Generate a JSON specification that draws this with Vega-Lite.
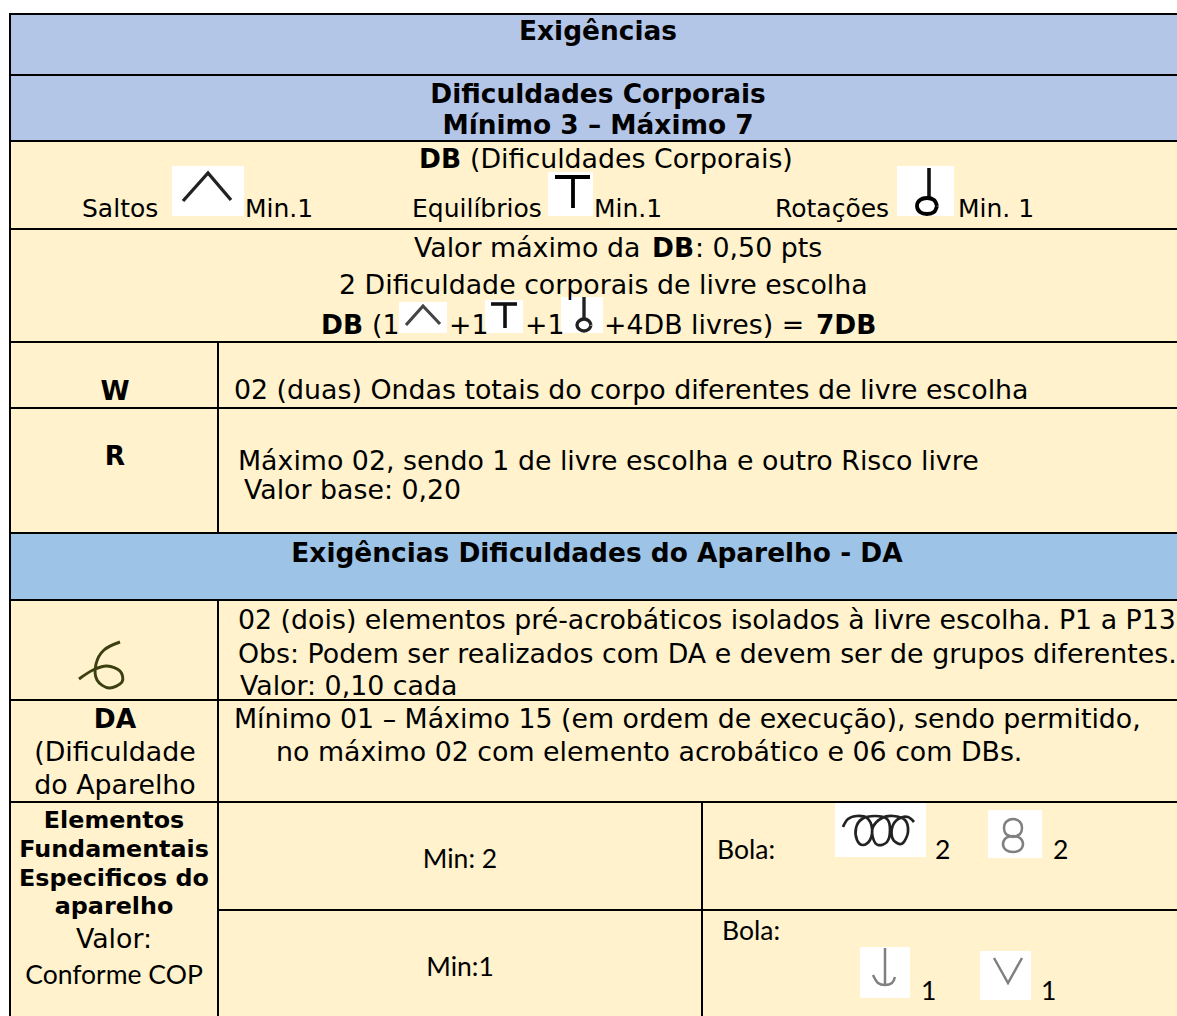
{"$schema":"https://vega.github.io/schema/vega-lite/v6.json","autosize":{"type":"fit","contains":"padding"},"padding":0,"width":1177,"height":1016,"background":"white","view":{"stroke":null},
"datasets":{
"cells":[
{"a":10,"b":1190,"t":14,"u":75,"k":"head"},{"a":10,"b":1190,"t":75,"u":141,"k":"head"},
{"a":10,"b":1190,"t":141,"u":229,"k":"body"},{"a":10,"b":1190,"t":229,"u":342,"k":"body"},
{"a":10,"b":218,"t":342,"u":408,"k":"body"},{"a":218,"b":1190,"t":342,"u":408,"k":"body"},
{"a":10,"b":218,"t":408,"u":533,"k":"body"},{"a":218,"b":1190,"t":408,"u":533,"k":"body"},
{"a":10,"b":1190,"t":533,"u":600,"k":"section"},
{"a":10,"b":218,"t":600,"u":700,"k":"body"},{"a":218,"b":1190,"t":600,"u":700,"k":"body"},
{"a":10,"b":218,"t":700,"u":802,"k":"body"},{"a":218,"b":1190,"t":700,"u":802,"k":"body"},
{"a":10,"b":218,"t":802,"u":1040,"k":"body"},{"a":218,"b":702,"t":802,"u":910,"k":"body"},{"a":702,"b":1190,"t":802,"u":910,"k":"body"},
{"a":218,"b":702,"t":910,"u":1040,"k":"body"},{"a":702,"b":1190,"t":910,"u":1040,"k":"body"}],
"boxes":[
{"a":172,"b":244,"t":166,"u":216},{"a":548,"b":593,"t":172,"u":216},{"a":897,"b":954,"t":166,"u":216},
{"a":399,"b":447,"t":302,"u":333},{"a":485,"b":523,"t":300,"u":333},{"a":561,"b":603,"t":297,"u":333},
{"a":835,"b":926,"t":803,"u":857},{"a":988,"b":1042,"t":810,"u":858},{"a":860,"b":910,"t":947,"u":998},{"a":980,"b":1031,"t":951,"u":1000}],
"glyphs":[
{"g":"a1","p":"thin","c":0,"n":1,"x":183,"y":201},{"g":"a1","p":"thin","c":0,"n":2,"x":208,"y":173},{"g":"a1","p":"thin","c":0,"n":3,"x":231,"y":200},
{"g":"t1a","p":"thick","c":0,"n":1,"x":555,"y":177},{"g":"t1a","p":"thick","c":0,"n":2,"x":590,"y":177},
{"g":"t1b","p":"thick","c":0,"n":1,"x":573,"y":177},{"g":"t1b","p":"thick","c":0,"n":2,"x":573,"y":208},
{"g":"r1a","p":"mid","c":0,"n":1,"x":929,"y":168},{"g":"r1a","p":"mid","c":0,"n":2,"x":929,"y":198},
{"g":"r1b","p":"thick","c":1,"n":1,"x":937,"y":206},{"g":"r1b","p":"thick","c":1,"n":2,"x":934,"y":212},{"g":"r1b","p":"thick","c":1,"n":3,"x":927,"y":214},{"g":"r1b","p":"thick","c":1,"n":4,"x":920,"y":212},{"g":"r1b","p":"thick","c":1,"n":5,"x":917,"y":206},{"g":"r1b","p":"thick","c":1,"n":6,"x":920,"y":200},{"g":"r1b","p":"thick","c":1,"n":7,"x":927,"y":198},{"g":"r1b","p":"thick","c":1,"n":8,"x":934,"y":200},{"g":"r1b","p":"thick","c":1,"n":9,"x":937,"y":206},
{"g":"a2","p":"fine","c":0,"n":1,"x":406,"y":325},{"g":"a2","p":"fine","c":0,"n":2,"x":423,"y":306},{"g":"a2","p":"fine","c":0,"n":3,"x":440,"y":324},
{"g":"t2a","p":"mid","c":0,"n":1,"x":491,"y":304},{"g":"t2a","p":"mid","c":0,"n":2,"x":517,"y":304},
{"g":"t2b","p":"mid","c":0,"n":1,"x":505,"y":304},{"g":"t2b","p":"mid","c":0,"n":2,"x":505,"y":328},
{"g":"r2a","p":"thin","c":0,"n":1,"x":584,"y":297},{"g":"r2a","p":"thin","c":0,"n":2,"x":584,"y":319},
{"g":"r2b","p":"thin","c":1,"n":1,"x":591,"y":325},{"g":"r2b","p":"thin","c":1,"n":2,"x":589,"y":329},{"g":"r2b","p":"thin","c":1,"n":3,"x":584,"y":331},{"g":"r2b","p":"thin","c":1,"n":4,"x":579,"y":329},{"g":"r2b","p":"thin","c":1,"n":5,"x":577,"y":325},{"g":"r2b","p":"thin","c":1,"n":6,"x":579,"y":321},{"g":"r2b","p":"thin","c":1,"n":7,"x":584,"y":319},{"g":"r2b","p":"thin","c":1,"n":8,"x":589,"y":321},{"g":"r2b","p":"thin","c":1,"n":9,"x":591,"y":325},
{"g":"six","p":"olive","c":1,"n":1,"x":120,"y":642},{"g":"six","p":"olive","c":1,"n":2,"x":104,"y":650},{"g":"six","p":"olive","c":1,"n":3,"x":96,"y":664},{"g":"six","p":"olive","c":1,"n":4,"x":97,"y":680},{"g":"six","p":"olive","c":1,"n":5,"x":109,"y":688},{"g":"six","p":"olive","c":1,"n":6,"x":122,"y":682},{"g":"six","p":"olive","c":1,"n":7,"x":120,"y":671},{"g":"six","p":"olive","c":1,"n":8,"x":107,"y":666},{"g":"six","p":"olive","c":1,"n":9,"x":93,"y":670},{"g":"six","p":"olive","c":1,"n":10,"x":79,"y":679},
{"g":"coil","p":"dark","c":1,"n":1,"x":843,"y":827},{"g":"coil","p":"dark","c":1,"n":2,"x":848,"y":819},{"g":"coil","p":"dark","c":1,"n":3,"x":857,"y":816},{"g":"coil","p":"dark","c":1,"n":4,"x":867,"y":818},{"g":"coil","p":"dark","c":1,"n":5,"x":872,"y":828},{"g":"coil","p":"dark","c":1,"n":6,"x":870,"y":840},{"g":"coil","p":"dark","c":1,"n":7,"x":863,"y":845},{"g":"coil","p":"dark","c":1,"n":8,"x":857,"y":840},{"g":"coil","p":"dark","c":1,"n":9,"x":856,"y":828},{"g":"coil","p":"dark","c":1,"n":10,"x":862,"y":819},{"g":"coil","p":"dark","c":1,"n":11,"x":875,"y":816},{"g":"coil","p":"dark","c":1,"n":12,"x":887,"y":819},{"g":"coil","p":"dark","c":1,"n":13,"x":890,"y":830},{"g":"coil","p":"dark","c":1,"n":14,"x":887,"y":842},{"g":"coil","p":"dark","c":1,"n":15,"x":878,"y":845},{"g":"coil","p":"dark","c":1,"n":16,"x":873,"y":838},{"g":"coil","p":"dark","c":1,"n":17,"x":873,"y":827},{"g":"coil","p":"dark","c":1,"n":18,"x":882,"y":818},{"g":"coil","p":"dark","c":1,"n":19,"x":893,"y":816},{"g":"coil","p":"dark","c":1,"n":20,"x":905,"y":820},{"g":"coil","p":"dark","c":1,"n":21,"x":908,"y":832},{"g":"coil","p":"dark","c":1,"n":22,"x":903,"y":843},{"g":"coil","p":"dark","c":1,"n":23,"x":897,"y":843},{"g":"coil","p":"dark","c":1,"n":24,"x":892,"y":837},{"g":"coil","p":"dark","c":1,"n":25,"x":893,"y":825},{"g":"coil","p":"dark","c":1,"n":26,"x":900,"y":818},{"g":"coil","p":"dark","c":1,"n":27,"x":908,"y":817},{"g":"coil","p":"dark","c":1,"n":28,"x":914,"y":822},
{"g":"e1","p":"grey","c":1,"n":1,"x":1013,"y":837},{"g":"e1","p":"grey","c":1,"n":2,"x":1006,"y":834},{"g":"e1","p":"grey","c":1,"n":3,"x":1004,"y":828},{"g":"e1","p":"grey","c":1,"n":4,"x":1006,"y":822},{"g":"e1","p":"grey","c":1,"n":5,"x":1013,"y":819},{"g":"e1","p":"grey","c":1,"n":6,"x":1020,"y":822},{"g":"e1","p":"grey","c":1,"n":7,"x":1022,"y":828},{"g":"e1","p":"grey","c":1,"n":8,"x":1020,"y":834},{"g":"e1","p":"grey","c":1,"n":9,"x":1013,"y":837},
{"g":"e2","p":"grey","c":1,"n":1,"x":1013,"y":836},{"g":"e2","p":"grey","c":1,"n":2,"x":1020,"y":838},{"g":"e2","p":"grey","c":1,"n":3,"x":1023,"y":844},{"g":"e2","p":"grey","c":1,"n":4,"x":1020,"y":850},{"g":"e2","p":"grey","c":1,"n":5,"x":1013,"y":852},{"g":"e2","p":"grey","c":1,"n":6,"x":1006,"y":850},{"g":"e2","p":"grey","c":1,"n":7,"x":1003,"y":844},{"g":"e2","p":"grey","c":1,"n":8,"x":1006,"y":838},{"g":"e2","p":"grey","c":1,"n":9,"x":1013,"y":836},
{"g":"an1","p":"grey","c":0,"n":1,"x":885,"y":948},{"g":"an1","p":"grey","c":0,"n":2,"x":885,"y":985},
{"g":"an2","p":"grey","c":1,"n":1,"x":873,"y":975},{"g":"an2","p":"grey","c":1,"n":2,"x":878,"y":983},{"g":"an2","p":"grey","c":1,"n":3,"x":885,"y":985},{"g":"an2","p":"grey","c":1,"n":4,"x":892,"y":983},{"g":"an2","p":"grey","c":1,"n":5,"x":895,"y":977},
{"g":"v","p":"grey","c":0,"n":1,"x":994,"y":958},{"g":"v","p":"grey","c":0,"n":2,"x":1008,"y":983},{"g":"v","p":"grey","c":0,"n":3,"x":1022,"y":958}],
"texts":[
{"s":"title","x":598,"y":39,"v":"Exigências"},
{"s":"title","x":598,"y":102,"v":"Dificuldades Corporais"},
{"s":"title","x":598,"y":133,"v":"Mínimo 3 – Máximo 7"},
{"s":"strong","x":419,"y":167,"v":"DB"},{"s":"body","x":470,"y":167,"v":"(Dificuldades Corporais)"},
{"s":"small","x":82,"y":216,"v":"Saltos"},{"s":"small","x":245,"y":216,"v":"Min.1"},
{"s":"small","x":412,"y":216,"v":"Equilíbrios"},{"s":"small","x":594,"y":216,"v":"Min.1"},
{"s":"small","x":775,"y":216,"v":"Rotações"},{"s":"small","x":958,"y":216,"v":"Min. 1"},
{"s":"body","x":414,"y":256,"v":"Valor máximo da"},{"s":"strong","x":652,"y":256,"v":"DB"},{"s":"body","x":695,"y":256,"v":": 0,50 pts"},
{"s":"body","x":339,"y":293,"v":"2 Dificuldade corporais de livre escolha"},
{"s":"strong","x":321,"y":333,"v":"DB"},{"s":"body","x":372,"y":333,"v":"(1"},{"s":"body","x":449,"y":333,"v":"+1"},{"s":"body","x":525,"y":333,"v":"+1"},{"s":"body","x":604,"y":333,"v":"+4DB livres) ="},{"s":"strong","x":816,"y":333,"v":"7DB"},
{"s":"title","x":115,"y":399,"v":"W"},{"s":"body","x":234,"y":398,"v":"02 (duas) Ondas totais do corpo diferentes de livre escolha"},
{"s":"title","x":115,"y":464,"v":"R"},{"s":"body","x":238,"y":469,"v":"Máximo 02, sendo 1 de livre escolha e outro Risco livre"},{"s":"body","x":244,"y":498,"v":"Valor base: 0,20"},
{"s":"title","x":597,"y":561,"v":"Exigências Dificuldades do Aparelho - DA"},
{"s":"body","x":238,"y":628,"v":"02 (dois) elementos pré-acrobáticos isolados à livre escolha. P1 a P13"},
{"s":"body","x":238,"y":662,"v":"Obs: Podem ser realizados com DA e devem ser de grupos diferentes."},
{"s":"body","x":240,"y":694,"v":"Valor: 0,10 cada"},
{"s":"title","x":115,"y":727,"v":"DA"},{"s":"cell","x":115,"y":760,"v":"(Dificuldade"},{"s":"cell","x":115,"y":793,"v":"do Aparelho"},
{"s":"body","x":234,"y":727,"v":"Mínimo 01 – Máximo 15 (em ordem de execução), sendo permitido,"},
{"s":"body","x":276,"y":760,"v":"no máximo 02 com elemento acrobático e 06 com DBs."},
{"s":"side","x":114,"y":827,"v":"Elementos"},{"s":"side","x":114,"y":856,"v":"Fundamentais"},{"s":"side","x":114,"y":885,"v":"Especificos do"},{"s":"side","x":114,"y":913,"v":"aparelho"},
{"s":"cell","x":114,"y":947,"v":"Valor:"},
{"s":"plainC","x":114,"y":983,"v":"Conforme COP"},
{"s":"plainC","x":460,"y":867,"v":"Min: 2"},{"s":"plainC","x":460,"y":975,"v":"Min:1"},
{"s":"plain","x":717,"y":858,"v":"Bola:"},{"s":"plain","x":935,"y":858,"v":"2"},{"s":"plain","x":1053,"y":858,"v":"2"},
{"s":"plain","x":722,"y":939,"v":"Bola:"},{"s":"plain","x":921,"y":999,"v":"1"},{"s":"plain","x":1041,"y":999,"v":"1"}]
},
"encoding":{
"x":{"field":"x","type":"quantitative","axis":null,"scale":{"domain":[0,1177],"nice":false,"zero":false}},
"y":{"field":"y","type":"quantitative","axis":null,"scale":{"domain":[1016,0],"nice":false,"zero":false}}},
"layer":[
{"data":{"name":"cells"},"mark":{"type":"rect","stroke":"#000000","strokeWidth":2,"clip":true},"encoding":{"x":{"field":"a","type":"quantitative"},"x2":{"field":"b"},"y":{"field":"t","type":"quantitative"},"y2":{"field":"u"},"fill":{"field":"k","type":"nominal","legend":null,"scale":{"domain":["head","section","body"],"range":["#B4C6E7","#9DC3E6","#FFF2CC"]}}}},
{"data":{"name":"boxes"},"mark":{"type":"rect","fill":"#FFFFFF","clip":true},"encoding":{"x":{"field":"a","type":"quantitative"},"x2":{"field":"b"},"y":{"field":"t","type":"quantitative"},"y2":{"field":"u"}}},
{"data":{"name":"glyphs"},"transform":[{"filter":"datum.c==0"}],"mark":{"type":"line","interpolate":"linear"},"encoding":{"detail":{"field":"g"},"order":{"field":"n","type":"quantitative"},"stroke":{"field":"p","type":"nominal","legend":null,"scale":{"domain":["thick","mid","thin","fine","olive","dark","grey"],"range":["#000000","#111111","#222222","#444444","#3C3F10","#222222","#808080"]}},"strokeWidth":{"field":"p","type":"nominal","legend":null,"scale":{"domain":["thick","mid","thin","fine","olive","dark","grey"],"range":[3.8,2.5,1.8,1.2,2.5,1.5,1.2]}}}},
{"data":{"name":"glyphs"},"transform":[{"filter":"datum.c==1"}],"mark":{"type":"line","interpolate":"cardinal"},"encoding":{"detail":{"field":"g"},"order":{"field":"n","type":"quantitative"},"stroke":{"field":"p","type":"nominal","legend":null,"scale":{"domain":["thick","mid","thin","fine","olive","dark","grey"],"range":["#000000","#111111","#222222","#444444","#3C3F10","#222222","#808080"]}},"strokeWidth":{"field":"p","type":"nominal","legend":null,"scale":{"domain":["thick","mid","thin","fine","olive","dark","grey"],"range":[3.8,2.5,1.8,1.2,2.5,1.5,1.2]}}}},
{"data":{"name":"texts"},"transform":[{"filter":"datum.s=='body'"}],"mark":{"type":"text","align":"left","baseline":"alphabetic","dy":1,"font":"DejaVu Sans","fontSize":26.8,"fill":"#000000"},"encoding":{"text":{"field":"v"}}},
{"data":{"name":"texts"},"transform":[{"filter":"datum.s=='small'"}],"mark":{"type":"text","align":"left","baseline":"alphabetic","dy":1,"font":"DejaVu Sans","fontSize":25,"fill":"#000000"},"encoding":{"text":{"field":"v"}}},
{"data":{"name":"texts"},"transform":[{"filter":"datum.s=='strong'"}],"mark":{"type":"text","align":"left","baseline":"alphabetic","dy":1,"font":"DejaVu Sans","fontWeight":"bold","fontSize":26.4,"fill":"#000000"},"encoding":{"text":{"field":"v"}}},
{"data":{"name":"texts"},"transform":[{"filter":"datum.s=='title'"}],"mark":{"type":"text","align":"center","baseline":"alphabetic","dy":0.5,"font":"DejaVu Sans","fontWeight":"bold","fontSize":26.4,"fill":"#000000"},"encoding":{"text":{"field":"v"}}},
{"data":{"name":"texts"},"transform":[{"filter":"datum.s=='cell'"}],"mark":{"type":"text","align":"center","baseline":"alphabetic","dy":1,"font":"DejaVu Sans","fontSize":26.8,"fill":"#000000"},"encoding":{"text":{"field":"v"}}},
{"data":{"name":"texts"},"transform":[{"filter":"datum.s=='side'"}],"mark":{"type":"text","align":"center","baseline":"alphabetic","dy":1,"font":"DejaVu Sans","fontWeight":"bold","fontSize":23.8,"fill":"#000000"},"encoding":{"text":{"field":"v"}}},
{"data":{"name":"texts"},"transform":[{"filter":"datum.s=='plain'"}],"mark":{"type":"text","align":"left","baseline":"alphabetic","dy":1,"font":"Lato","fontSize":26.5,"fill":"#000000"},"encoding":{"text":{"field":"v"}}},
{"data":{"name":"texts"},"transform":[{"filter":"datum.s=='plainC'"}],"mark":{"type":"text","align":"center","baseline":"alphabetic","dy":1,"font":"Lato","fontSize":26.5,"fill":"#000000"},"encoding":{"text":{"field":"v"}}}
]}
